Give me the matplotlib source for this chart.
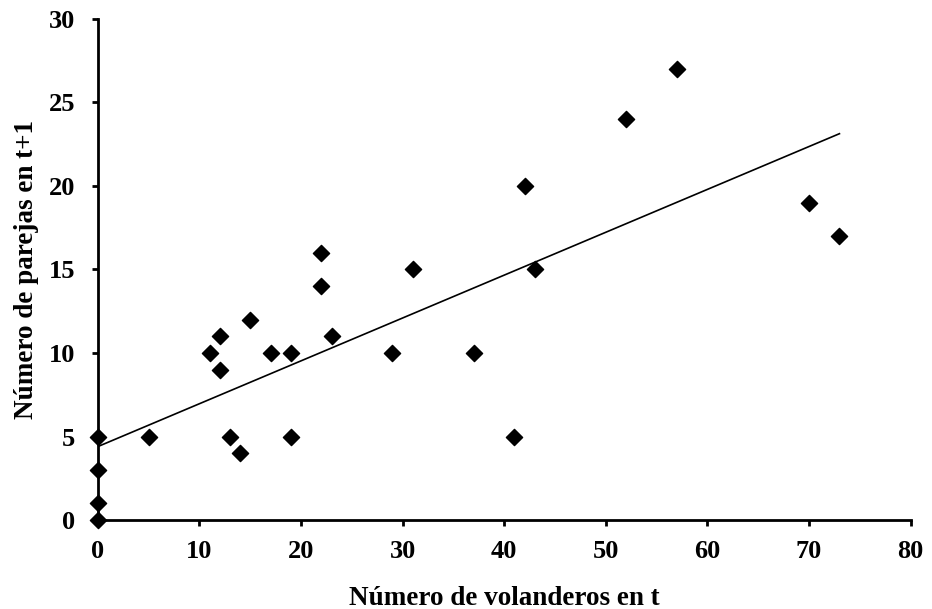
import matplotlib.pyplot as plt
import numpy as np

# volanderos en t vs parejas en t+1
volanderos = [0, 0, 0, 0, 5, 11, 12, 12, 13, 14, 15, 17, 19, 19, 22, 22, 23,
              29, 31, 37, 41, 42, 43, 52, 57, 70, 73]
parejas = [0, 1, 3, 5, 5, 10, 11, 9, 5, 4, 12, 10, 10, 5, 16, 14, 11,
           10, 15, 10, 5, 20, 15, 24, 27, 19, 17]
x_ticks = [0, 10, 20, 30, 40, 50, 60, 70, 80]
y_ticks = [0, 5, 10, 15, 20, 25, 30]

plt.rcParams['font.family'] = ['Liberation Serif', 'DejaVu Serif']
plt.rcParams['font.weight'] = 'bold'

fig = plt.figure(figsize=(9.32, 6.09), dpi=100)
ax = fig.add_axes([0.105, 0.146, 0.872, 0.823])

x = np.array(volanderos, dtype=float)
y = np.array(parejas, dtype=float)
ax.scatter(x, y, marker='D', s=68, color='black', zorder=3, clip_on=False)

# linear trend
slope, intercept = np.polyfit(x, y, 1)
xs = np.array([0, x.max()])
ax.plot(xs, slope * xs + intercept, color='black', lw=1.2)

ax.set_xlim(0, 80)
ax.set_ylim(0, 30)
ax.set_xticks(x_ticks)
ax.set_yticks(y_ticks)
ax.spines['top'].set_visible(False)
ax.spines['right'].set_visible(False)
ax.spines['left'].set_linewidth(2)
ax.spines['bottom'].set_linewidth(2)
ax.tick_params(direction='out', length=4.5, width=2, labelsize=19)
ax.tick_params(axis='x', pad=10)
ax.tick_params(axis='y', pad=12)
for lbl in ax.get_xticklabels() + ax.get_yticklabels():
    lbl.set_fontweight('bold')

ax.set_xlabel('Número de volanderos en t', fontsize=19.5, fontweight='bold')
ax.set_ylabel('Número de parejas en t+1', fontsize=19.5, fontweight='bold')
ax.xaxis.set_label_coords(0.5, -0.131)
ax.yaxis.set_label_coords(-0.073, 0.5)

fig.savefig('out.png', dpi=100)
